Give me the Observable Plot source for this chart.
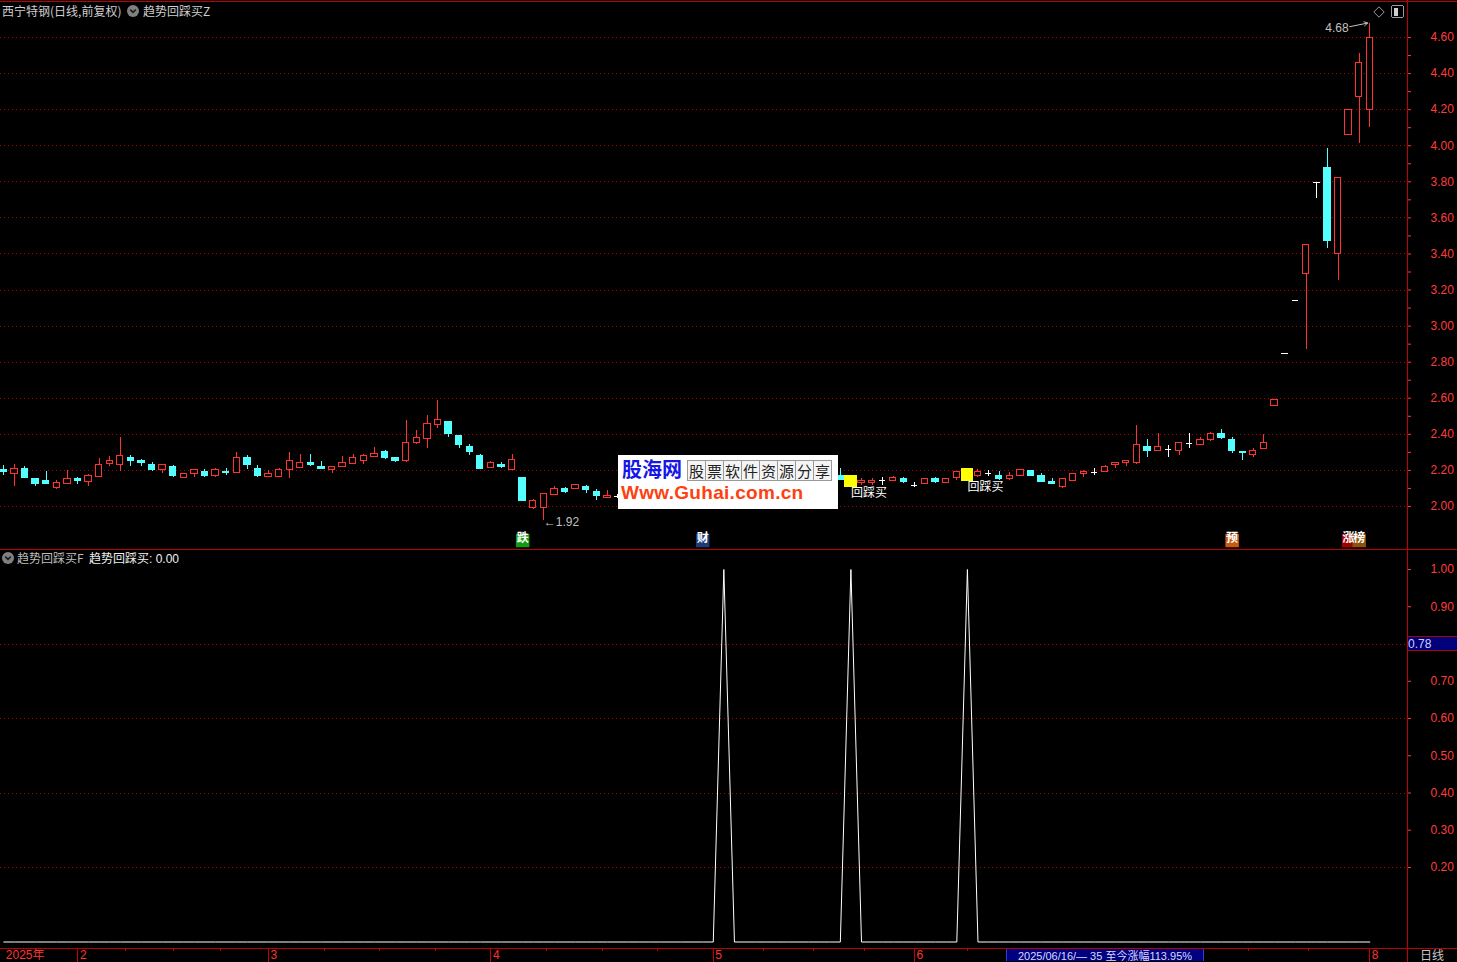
<!DOCTYPE html>
<html><head><meta charset="utf-8">
<script src="https://cdn.jsdelivr.net/npm/d3@7"></script>
<script src="https://cdn.jsdelivr.net/npm/@observablehq/plot@0.6"></script>
<style>
html,body{margin:0;padding:0;background:#000;}
#wrap{position:relative;width:1457px;height:962px;background:#000;overflow:hidden;font-family:"Liberation Sans","Noto Sans CJK SC",sans-serif;font-size:12px;color:#c8c8c8;}
.abs{position:absolute;white-space:nowrap;}
#wrap svg line,#wrap svg rect{shape-rendering:crispEdges;}
.cjk{font-family:"Noto Sans CJK SC","Liberation Sans",sans-serif;}
</style></head><body><div id="wrap"></div>
<script>
// ---------------- data ----------------
const openP = [2.203,2.179,2.207,2.151,2.142,2.105,2.127,2.153,2.138,2.166,
2.236,2.229,2.269,2.251,2.230,2.201,2.219,2.157,2.179,2.192,
2.168,2.192,2.188,2.269,2.208,2.166,2.166,2.201,2.216,2.242,
2.219,2.201,2.217,2.238,2.254,2.277,2.302,2.267,2.253,2.352,
2.376,2.454,2.469,2.391,2.330,2.278,2.216,2.230,2.201,2.156,
1.990,1.994,2.066,2.095,2.095,2.110,2.081,2.046,2.057,null,
null,null,null,null,null,null,null,null,null,null,
null,null,null,null,null,null,null,null,null,2.171,
2.171,2.131,2.131,2.144,2.142,2.155,2.118,2.122,2.155,2.129,
2.158,2.140,2.169,2.184,2.171,2.153,2.168,2.195,2.171,2.135,
2.107,2.140,2.180,2.191,2.190,2.232,2.241,2.239,2.330,2.305,
2.316,2.305,2.352,2.340,2.367,2.402,2.369,2.303,2.288,2.317,
2.556,2.850,3.141,3.289,3.795,3.874,3.400,4.061,4.269,4.199];
const highP = [2.230,2.234,2.219,2.151,2.192,2.146,2.201,2.160,2.175,2.264,
2.275,2.385,2.280,2.258,2.242,2.229,2.230,2.179,2.201,2.203,
2.212,2.208,2.297,2.280,2.230,2.201,2.212,2.297,2.286,2.291,
2.251,2.219,2.275,2.286,2.286,2.325,2.308,2.267,2.474,2.424,
2.502,2.585,2.469,2.391,2.341,2.291,2.251,2.243,2.286,2.156,
2.040,2.068,2.112,2.108,2.123,2.119,2.092,2.086,2.068,null,
null,null,null,null,null,null,null,null,null,null,
null,null,null,null,null,null,null,null,null,2.208,
2.171,2.153,2.153,2.158,2.166,2.158,2.135,2.153,2.162,2.153,
2.190,2.209,2.204,2.197,2.193,2.190,2.202,2.202,2.184,2.155,
2.153,2.180,2.202,2.208,2.226,2.243,2.252,2.451,2.369,2.402,
2.340,2.352,2.407,2.385,2.411,2.429,2.380,2.303,2.323,2.401,
2.589,2.850,3.141,3.450,3.795,3.984,3.822,4.199,4.514,4.680];
const lowP = [2.170,2.111,2.153,2.111,2.122,2.094,2.124,2.122,2.111,2.160,
2.221,2.194,2.221,2.221,2.194,2.183,2.160,2.157,2.160,2.160,
2.160,2.171,2.188,2.205,2.160,2.166,2.166,2.153,2.216,2.221,
2.208,2.182,2.217,2.234,2.234,2.277,2.262,2.243,2.243,2.341,
2.321,2.432,2.382,2.321,2.284,2.205,2.210,2.210,2.201,2.033,
1.983,1.924,2.059,2.071,2.095,2.071,2.033,2.046,2.046,null,
null,null,null,null,null,null,null,null,null,null,
null,null,null,null,null,null,null,null,null,2.147,
2.107,2.118,2.118,2.115,2.142,2.126,2.104,2.122,2.126,2.129,
2.144,2.140,2.158,2.166,2.144,2.142,2.168,2.164,2.135,2.124,
2.102,2.140,2.162,2.171,2.190,2.212,2.222,2.235,2.272,2.305,
2.272,2.281,2.321,2.340,2.360,2.371,2.294,2.255,2.272,2.317,
2.556,2.850,3.141,2.870,3.706,3.431,3.254,4.061,4.015,4.103];
const closeP = [2.194,2.207,2.160,2.122,2.122,2.131,2.151,2.144,2.170,2.229,
2.251,2.280,2.253,2.242,2.203,2.229,2.170,2.179,2.201,2.171,
2.201,2.183,2.267,2.232,2.170,2.179,2.201,2.251,2.240,2.232,
2.208,2.219,2.241,2.267,2.280,2.291,2.271,2.254,2.350,2.380,
2.456,2.480,2.404,2.343,2.304,2.210,2.241,2.219,2.256,2.033,
2.031,2.068,2.095,2.083,2.118,2.092,2.060,2.057,2.057,null,
null,null,null,null,null,null,null,null,null,null,
null,null,null,null,null,null,null,null,null,2.147,
2.107,2.144,2.144,2.144,2.158,2.136,2.118,2.153,2.135,2.153,
2.190,2.209,2.190,2.184,2.153,2.171,2.202,2.171,2.135,2.124,
2.153,2.180,2.193,2.191,2.219,2.243,2.252,2.341,2.308,2.330,
2.316,2.352,2.352,2.369,2.402,2.382,2.305,2.294,2.308,2.351,
2.589,2.850,3.141,3.450,3.795,3.474,3.822,4.199,4.458,4.600];

// 趋势回踩买 signals (lower panel spikes) and yellow boxes
const signalIdx = [68, 80, 91];
const buyBoxIdx = [80, 91];
const buyBoxLow = [2.107, 2.140];
const buyBoxHigh = [2.171, 2.209];
const buyLabel = "回踩买";

// event markers under the candles
const markerLabels = ["跌", "财", "预", "涨", "榜"];
const markerIdx = [49, 66, 116, 127, 128];

// axis labels
const priceTickLabels = ["2.00","2.20","2.40","2.60","2.80","3.00","3.20","3.40","3.60","3.80","4.00","4.20","4.40","4.60"];
const priceMinorTicks = [2.1,2.3,2.5,2.7,2.9,3.1,3.3,3.5,3.7,3.9,4.1,4.3,4.5];
const indTickLabels = ["0.20","0.30","0.40","0.50","0.60","0.70","0.80","0.90","1.00"];
const indGridTicks = [0.2, 0.4, 0.6, 0.8];
const monthLabels = ["2025年","2","3","4","5","6","7","8"];
const monthStartIdx = [0, 7, 25, 46, 67, 86, 106, 129];
const hiddenMonthLabels = ["7"]; // covered by the date readout box

// ---------------- styles ----------------
const RED = "#ff3232", CYAN = "#54ffff", GRID = "#b00000", AXRED = "#ff3c3c";
const markerFill = {"跌": "#129a12", "财": "#1c3c78", "预": "#c85a14", "涨": "#a00000", "榜": "#8c5010"};
const W = 1457, AX = 1407;
const spacing = 10.589, firstX = 3.3;
const X0 = -firstX / spacing, X1 = (AX - firstX) / spacing;
const font = "'Liberation Sans','Noto Sans CJK SC',sans-serif";

// ---------------- tables ----------------
const rows = [];
for (let i = 0; i < openP.length; i++) {
  if (openP[i] == null) continue;
  rows.push({i, open: openP[i], high: highP[i], low: lowP[i], close: closeP[i]});
}
const up = rows.filter(d => d.close > d.open);
const down = rows.filter(d => d.close < d.open);
const flat = rows.filter(d => d.close === d.open);
const boxes = buyBoxIdx.map((i, k) => ({i, lo: buyBoxLow[k], hi: buyBoxHigh[k]}));
const markers = markerIdx.map((i, k) => ({i, label: markerLabels[k]}));
const lowest = rows.reduce((a, b) => (b.low < a.low ? b : a));
const highest = rows.reduce((a, b) => (b.high > a.high ? b : a));
const sig = d3.range(openP.length).map(i => ({i, v: signalIdx.includes(i) ? 1 : 0}));
const months = monthLabels.map((label, k) => ({i: monthStartIdx[k], label}));
const quarterTicks = [];
for (let k = 1; k < monthStartIdx.length - 1; k++) {
  const a = monthStartIdx[k], b = monthStartIdx[k + 1];
  for (let q = 1; q < 4; q++) quarterTicks.push(a + (b - a) * q / 4);
}

const baseStyle = {background: "transparent", color: AXRED, fontFamily: font, fontSize: "12px", overflow: "visible"};

// ---------------- top panel ----------------
const topPlot = Plot.plot({
  width: W, height: 549,
  marginLeft: 0, marginRight: W - AX, marginTop: 37, marginBottom: 43,
  x: {domain: [X0, X1], axis: null},
  y: {domain: [2.0, 4.6], axis: null},
  style: baseStyle,
  marks: [
    Plot.gridY({ticks: priceTickLabels.map(Number), stroke: GRID, strokeOpacity: 1, strokeDasharray: "1,3"}),
    Plot.axisY({ticks: priceTickLabels.map(Number), anchor: "right", tickSize: 3, tickPadding: 20, label: null,
      tickFormat: d => priceTickLabels.find(s => Math.abs(Number(s) - d) < 1e-9), color: AXRED}),
    Plot.axisY({ticks: priceMinorTicks, anchor: "right", tickSize: 3, label: null, tickFormat: () => "", color: AXRED}),
    Plot.ruleX(down, {x: "i", y1: "low", y2: "high", stroke: CYAN}),
    Plot.ruleX(up, {x: "i", y1: "low", y2: "high", stroke: RED}),
    Plot.ruleX(flat, {x: "i", y1: "low", y2: "high", stroke: "#fff"}),
    Plot.rect(down, {x1: d => d.i - 0.3, x2: d => d.i + 0.3, y1: "open", y2: "close", fill: CYAN, stroke: CYAN}),
    Plot.rect(up, {x1: d => d.i - 0.3, x2: d => d.i + 0.3, y1: "open", y2: "close", fill: "#000", stroke: RED}),
    Plot.ruleY(flat, {y: "close", x1: d => d.i - 0.3, x2: d => d.i + 0.3, stroke: "#fff"}),
    Plot.rect(boxes, {x1: d => d.i - 0.6, x2: d => d.i + 0.6, y1: "lo", y2: "hi", fill: "#ffff00"}),
    Plot.text(boxes, {x: "i", y: "lo", text: () => buyLabel, textAnchor: "start", lineAnchor: "top", dy: 1, fill: "#fff", fontFamily: "'Noto Sans CJK SC',sans-serif", fontSize: 12}),
    Plot.dot(markers, {x: "i", frameAnchor: "bottom", dy: 34, symbol: "square", r: 7.6, fill: d => markerFill[d.label], stroke: null}),
    Plot.text(markers, {x: "i", frameAnchor: "bottom", dy: 35, text: "label", fill: "#fff", fontFamily: "'Noto Sans CJK SC',sans-serif", fontSize: 12, fontWeight: "bold"}),
    Plot.text([lowest], {x: "i", y: "low", text: d => "←" + d.low.toFixed(2), textAnchor: "start", dy: 1.5, fill: "#c0c0c0"}),
    Plot.arrow([highest], {x1: d => d.i - 1.9, y1: d => d.high - 0.02, x2: d => d.i - 0.2, y2: "high", stroke: "#c0c0c0", strokeWidth: 1, headLength: 6}),
    Plot.text([highest], {x: d => d.i - 2, y: d => d.high - 0.028, text: d => d.high.toFixed(2), textAnchor: "end", fill: "#c0c0c0"})
  ]
});

// ---------------- lower panel ----------------
const lowPlot = Plot.plot({
  width: W, height: 399,
  marginLeft: 0, marginRight: W - AX, marginTop: 20, marginBottom: 6.5,
  x: {domain: [X0, X1], axis: null},
  y: {domain: [0, 1], axis: null},
  style: baseStyle,
  marks: [
    Plot.gridY({ticks: indGridTicks, stroke: GRID, strokeOpacity: 1, strokeDasharray: "1,3"}),
    Plot.axisY({ticks: indTickLabels.map(Number), anchor: "right", tickSize: 3, tickPadding: 20, label: null,
      tickFormat: d => indTickLabels.find(s => Math.abs(Number(s) - d) < 1e-9), color: AXRED}),
    Plot.line(sig, {x: "i", y: "v", stroke: "#fff", strokeWidth: 1})
  ]
});

// ---------------- x axis row ----------------
const axisPlot = Plot.plot({
  width: W, height: 14,
  marginLeft: 0, marginRight: W - AX, marginTop: 0, marginBottom: 0,
  x: {domain: [X0, X1], axis: null},
  style: baseStyle,
  marks: [
    Plot.ruleX(months.filter(d => d.i > 0), {x: "i", stroke: "#c80000"}),
    Plot.ruleX(quarterTicks, {x: d => d, stroke: "#c80000", insetBottom: 11}),
    Plot.text(months.filter(d => !hiddenMonthLabels.includes(d.label)), {x: "i", text: "label", textAnchor: "start", dx: 2, fill: RED, fontFamily: "'Liberation Sans','Noto Sans CJK SC',sans-serif"})
  ]
});

// ---------------- assemble ----------------
const wrap = document.getElementById("wrap");
function place(el, left, top) {
  el.style.position = "absolute"; el.style.left = left + "px"; el.style.top = top + "px";
  wrap.appendChild(el);
}
place(topPlot, 0, 0);
place(lowPlot, 0, 549);
place(axisPlot, 0, 948);

function div(html, css) {
  const d = document.createElement("div");
  d.className = "abs"; d.innerHTML = html; d.style.cssText += css;
  wrap.appendChild(d); return d;
}
// frame lines
div("", "left:0;top:1px;width:1457px;height:1px;background:#c00000;");
div("", "left:0;top:549px;width:1457px;height:1px;background:#c00000;");
div("", "left:0;top:948px;width:1457px;height:1px;background:#c00000;");
div("", "left:1407px;top:0;width:1px;height:962px;background:#c00000;");

const chevron = '<svg width="12" height="12" style="vertical-align:-2px"><circle cx="6" cy="6" r="6" fill="#808080"/><path d="M3.2 4.6 L6 7.4 L8.8 4.6" stroke="#1a1a1a" stroke-width="1.6" fill="none"/></svg>';
div('<span class="cjk">西宁特钢(日线,前复权)</span>', "left:2px;top:2px;line-height:18px;color:#cfcfcf;");
div(chevron, "left:127px;top:5px;line-height:12px;");
div('<span class="cjk">趋势回踩买Z</span>', "left:143px;top:2px;line-height:18px;color:#cfcfcf;");
// top-right icons
div('<svg width="12" height="12"><path d="M6 0.8 L11.2 6 L6 11.2 L0.8 6 Z" stroke="#9a9a9a" fill="none"/></svg>', "left:1373px;top:6px;");
div('<svg width="13" height="13"><rect x="0.5" y="0.5" width="12" height="12" rx="2" stroke="#9a9a9a" fill="none"/><rect x="2.5" y="2.5" width="4" height="8" fill="#cfcfcf"/></svg>', "left:1391px;top:5px;");

// lower header
div(chevron, "left:2px;top:552px;line-height:12px;");
div('<span class="cjk">趋势回踩买F</span>', "left:17px;top:549px;line-height:18px;color:#bdbdbd;");
div('<span class="cjk">趋势回踩买</span>: 0.00', "left:89px;top:549px;line-height:18px;color:#f0f0f0;");

// current value readout
div("0.78", "left:1408px;top:636px;width:49px;height:15px;line-height:14px;background:#00007c;color:#d0d0ff;border-top:1px solid #b00000;border-bottom:1px solid #b00000;box-sizing:border-box;");

// bottom date readout
div('2025/06/16/— 35 <span class="cjk">至今涨幅</span>113.95%', "left:1006px;top:949px;width:196px;height:12px;line-height:12px;background:#000080;color:#d8d8ff;border-left:1px solid #3040c0;border-right:1px solid #3040c0;text-align:center;font-size:11px;");
div('<span class="cjk">日线</span>', "left:1420px;top:948px;line-height:14px;color:#c8c8c8;");

// watermark
div('<div style="position:absolute;left:4px;top:2px;font:bold 20px \'Noto Sans CJK SC\',sans-serif;color:#1616e6;line-height:24px;">股海网</div>' +
    '<div style="position:absolute;left:70px;top:5px;display:flex;">' +
    "股票软件资源分享".split("").map(c => '<span style="display:inline-block;width:17px;height:19px;border:1px solid #9a9a9a;margin-left:-1px;text-align:center;font:15px/19px \'Noto Sans CJK SC\',sans-serif;color:#222;background:#f4f4f4;">' + c + '</span>').join("") +
    '</div>' +
    '<div style="position:absolute;left:3px;top:27px;font:bold 19px \'Liberation Sans\',sans-serif;color:#ff4010;line-height:22px;letter-spacing:0.3px;">Www.Guhai.com.cn</div>',
    "left:618px;top:455px;width:220px;height:54px;background:#fff;");
</script>
</body></html>
